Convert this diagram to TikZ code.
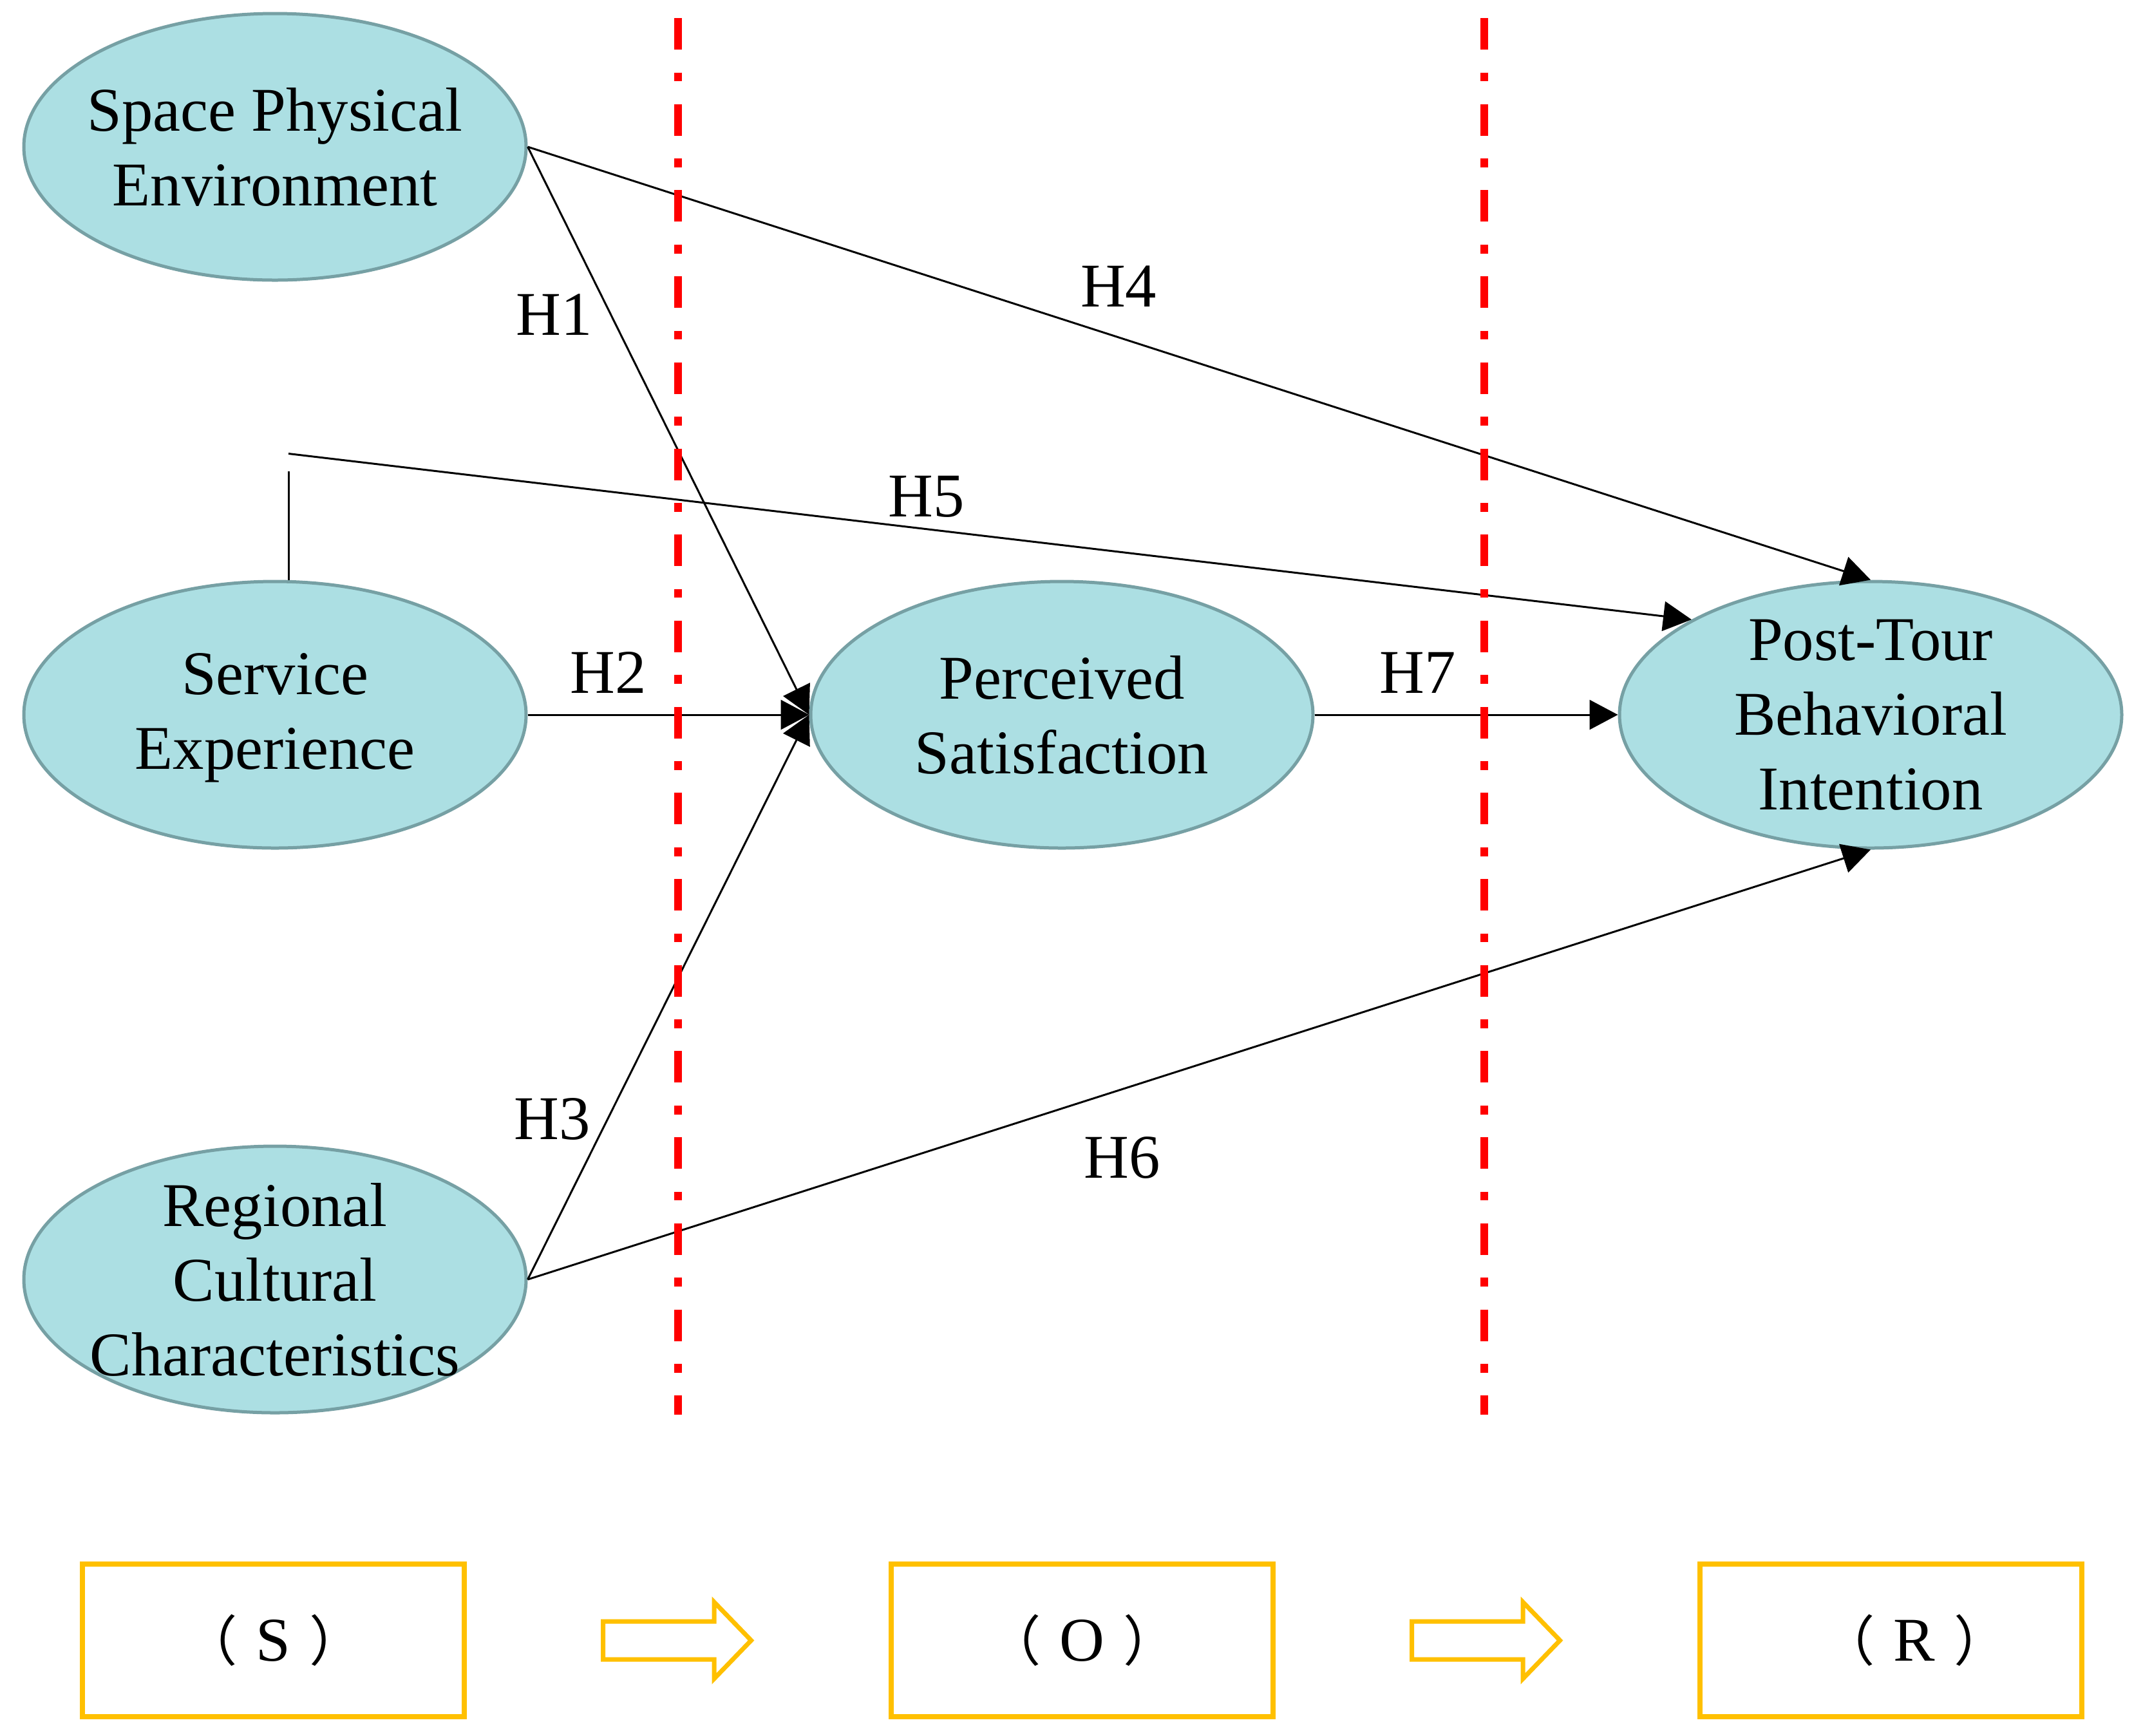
\documentclass[tikz,border=0pt]{standalone}
\usepackage{fontspec}
\setmainfont{Liberation Serif}
\newfontfamily\cjk{Noto Sans CJK SC}
\usepackage{tikz}
\usetikzlibrary{shapes.geometric, shapes.arrows, arrows.meta, positioning, calc}
\definecolor{constructfill}{RGB}{172,223,227}
\definecolor{constructline}{RGB}{118,160,164}
\definecolor{stagegold}{RGB}{255,192,0}
\newcommand{\stagelabel}[1]{{\cjk\fontsize{24}{28}\selectfont （}\hspace{0.3em}#1\hspace{0.3em}{\cjk\fontsize{24}{28}\selectfont ）}}

\begin{document}
\begin{tikzpicture}[
        construct/.style={ellipse, draw=constructline, fill=constructfill, line width=0.05cm, minimum width=7.8cm, minimum height=4.14cm, inner sep=0pt},
        ctext/.style={align=center, inner sep=0pt, font=\fontsize{27.5}{33}\selectfont},
        stage/.style={rectangle, draw=stagegold, line width=0.08cm, minimum width=5.93cm, minimum height=2.37cm, font=\fontsize{27.5}{33}\selectfont},
        flow/.style={single arrow, draw=stagegold, fill=white, line width=0.07cm, minimum height=2.30cm, inner xsep=0pt, inner ysep=0.26cm, single arrow head extend=0.30cm, single arrow tip angle=92},
        hyp/.style={inner sep=0pt, font=\fontsize{27.5}{33}\selectfont},
        guide/.style={draw=red, line width=0.12cm, dash pattern=on 0.49cm off 0.355cm on 0.137cm off 0.355cm},
        line/.style={draw, line width=0.03cm, -{Triangle[length=0.44cm, width=0.46cm]}}
        ]
        \useasboundingbox (0,0) rectangle (33.28,-26.95);

        % Nodes
        \node [construct, label={[ctext, yshift=-0.05cm]center:Service\\Experience}] (se) at (4.27,-11.10) {};
        \node [construct, above=4.63cm of se, label={[ctext]center:Space Physical\\Environment}] (spe) {};
        \node [construct, below=4.58cm of se, label={[ctext]center:Regional\\Cultural\\Characteristics}] (rcc) {};
        \node [construct, right=4.37cm of se, label={[ctext]center:Perceived\\Satisfaction}] (ps) {};
        \node [construct, right=4.71cm of ps, label={[ctext]center:Post-Tour\\Behavioral\\Intention}] (ptbi) {};

        \node [stage] (sbox) at (4.245,-25.475) {\stagelabel{S}};
        \node [stage, right=6.55cm of sbox] (obox) {\stagelabel{O}};
        \node [stage, right=6.55cm of obox] (rbox) {\hspace{0.75em}\stagelabel{R}};
        \node [flow, right=2.08cm of sbox] (so) {};
        \node [flow, right=2.08cm of obox] (or) {};

        \coordinate (h5foot) at ([xshift=0.21cm]se.north);
        \coordinate (h5knee) at ([yshift=1.69cm]h5foot);
        \coordinate (h5start) at ([yshift=1.96cm]h5foot);

        % Edges
        \path [line] (spe.east) -- node[hyp, pos=0.295, left=0.27cm] {H1} (ps.west);
        \path [line] (se.east) -- node[hyp, pos=0.287, above=0.32cm] {H2} (ps.west);
        \path [line] (rcc.east) -- node[hyp, pos=0.284, left=0.25cm] {H3} (ps.west);
        \path [line] (spe.east) -- node[hyp, pos=0.44, above=0.46cm] {H4} (ptbi.north);
        \draw [line width=0.03cm] (h5foot) -- (h5knee);
        \path [line] (h5start) -- node[hyp, pos=0.4545, above=0.17cm] {H5} (ptbi.152);
        \path [line] (rcc.east) -- node[hyp, pos=0.4425, below=0.72cm] {H6} (ptbi.south);
        \path [line] (ps.east) -- node[hyp, pos=0.34, above=0.32cm] {H7} (ptbi.west);

        % S-O-R borders
        \draw [guide] (10.53,-0.28) -- (10.53,-21.97);
        \draw [guide] (23.05,-0.28) -- (23.05,-21.97);
    \end{tikzpicture}
\end{document}
